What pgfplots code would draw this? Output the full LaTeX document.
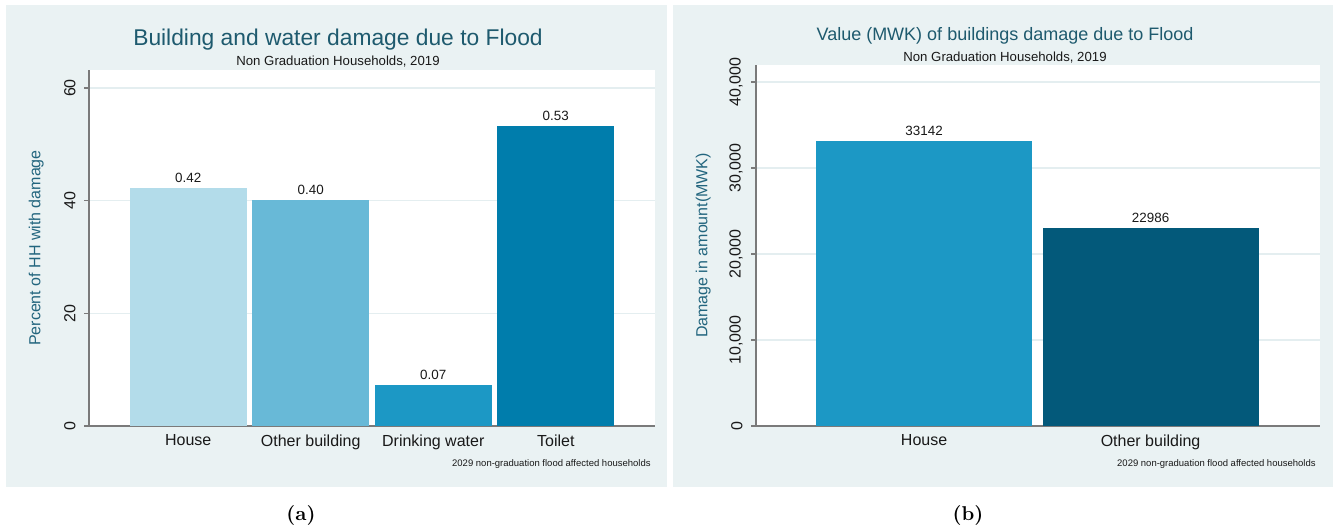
\documentclass[border=0pt]{standalone}
\usepackage{fontspec}
\setsansfont{Liberation Sans}
\usepackage{pgfplots}
\pgfplotsset{compat=1.18}

\definecolor{panelbg}{HTML}{EAF2F3}
\definecolor{titlecol}{HTML}{1E5A6E}
\definecolor{labcol}{HTML}{22657E}
\definecolor{gridcol}{HTML}{E4EEF0}
\definecolor{axiscol}{HTML}{7A7A7A}
\definecolor{barA}{HTML}{B3DCEA}
\definecolor{barB}{HTML}{68B9D7}
\definecolor{barC}{HTML}{1C98C5}
\definecolor{barD}{HTML}{007DAC}
\definecolor{barE}{HTML}{03597A}

\pgfplotsset{
  statabar/.style={
    scale only axis, ybar,
    axis background/.style={fill=white},
    axis x line*=bottom, axis y line*=left,
    axis line style={-, draw=axiscol, line width=0.6pt},
    ymajorgrids, grid style={gridcol, line width=0.7pt},
    tick align=outside, major tick length=2.5pt,
    ytick style={draw=axiscol, line width=0.6pt},
    xtick style={draw=none},
    ticklabel style={font=\sffamily\fontsize{8}{9}\selectfont, text=black!90},
    /pgf/number format/assume math mode=true,
    yticklabel style={rotate=90, anchor=south, inner sep=0pt},
    yticklabel shift=4pt,
    xticklabel style={anchor=north, inner sep=0pt, yshift=-1.5pt},
    every axis y label/.style={at={(axis description cs:-0.0795,0.5)}, rotate=90,
      anchor=south, inner sep=0pt, font=\sffamily\fontsize{8}{9}\selectfont, text=labcol},
    nodes near coords, point meta=explicit symbolic,
    every node near coord/.append style={font=\sffamily\fontsize{6.7}{8}\selectfont,
      text=black!90, anchor=south, inner sep=2.5pt},
    clip=false,
  },
}

\begin{document}
\begin{tikzpicture}
\useasboundingbox (0pt,0pt) rectangle (669pt,-265.5pt);
\fill[panelbg] (3pt,-2.5pt) rectangle (333.5pt,-243.5pt);
\fill[panelbg] (336.5pt,-2.5pt) rectangle (666.5pt,-243.5pt);

% (a) share of households with damage
\begin{axis}[statabar,
  at={(44.5pt,-213pt)}, anchor=south west,
  width=283pt, height=178pt,
  xmin=-0.81, xmax=3.81, ymin=0, ymax=63.2,
  ytick={0,20,40,60},
  xtick={0,1,2,3},
  xticklabels={House, Other building, Drinking water, Toilet},
  bar width=0.955,
  ylabel={Percent of HH with damage},
]
\addplot[fill=barA, draw=none, bar shift=0pt] coordinates {(0,42.2) [0.42]};
\addplot[fill=barB, draw=none, bar shift=0pt] coordinates {(1,40.1) [0.40]};
\addplot[fill=barC, draw=none, bar shift=0pt] coordinates {(2,7.2) [0.07]};
\addplot[fill=barD, draw=none, bar shift=0pt] coordinates {(3,53.3) [0.53]};
\end{axis}

% (b) value of damage
\begin{axis}[statabar,
  at={(378pt,-213pt)}, anchor=south west,
  width=282pt, height=180.5pt,
  xmin=-0.742, xmax=1.748, ymin=0, ymax=41977,
  ytick={0,10000,20000,30000,40000},
  scaled y ticks=false,
  /pgf/number format/1000 sep={,},
  xtick={0,1},
  xticklabels={House, Other building},
  bar width=0.954,
  ylabel={Damage in amount(MWK)},
]
\addplot[fill=barC, draw=none, bar shift=0pt] coordinates {(0,33142) [33142]};
\addplot[fill=barE, draw=none, bar shift=0pt] coordinates {(1,22986) [22986]};
\end{axis}

\node[anchor=base, font=\sffamily\fontsize{11.4}{13}\selectfont, text=titlecol, inner sep=0pt]
  at (169pt,-22.5pt) {Building and water damage due to Flood};
\node[anchor=base, font=\sffamily\fontsize{6.6}{8}\selectfont, text=black!90, inner sep=0pt]
  at (169pt,-32.5pt) {Non Graduation Households, 2019};
\node[anchor=base, font=\sffamily\fontsize{9}{11}\selectfont, text=titlecol, inner sep=0pt]
  at (502.5pt,-20pt) {Value (MWK) of buildings damage due to Flood};
\node[anchor=base, font=\sffamily\fontsize{6.6}{8}\selectfont, text=black!90, inner sep=0pt]
  at (502.5pt,-30.5pt) {Non Graduation Households, 2019};

\node[anchor=base east, font=\sffamily\fontsize{4.75}{6}\selectfont, text=black!90, inner sep=0pt]
  at (325.5pt,-233pt) {2029 non-graduation flood affected households};
\node[anchor=base east, font=\sffamily\fontsize{4.75}{6}\selectfont, text=black!90, inner sep=0pt]
  at (658pt,-233pt) {2029 non-graduation flood affected households};

\node[anchor=base, font=\rmfamily\bfseries, inner sep=0pt] at (150.5pt,-260pt) {(a)};
\node[anchor=base, font=\rmfamily\bfseries, inner sep=0pt] at (484pt,-260pt) {(b)};
\end{tikzpicture}
\end{document}
